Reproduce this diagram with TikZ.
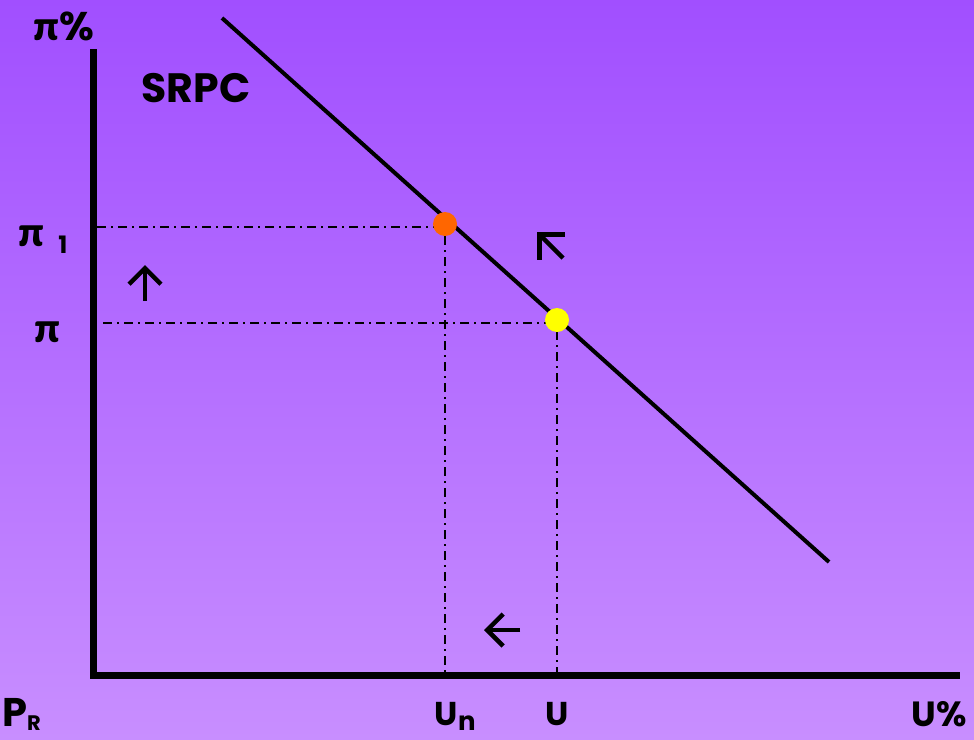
\documentclass[tikz,border=0pt]{standalone}
\usepackage{fontspec}
\usetikzlibrary{arrows.meta}
\setmainfont{Poppins}[BoldFont={Poppins Bold}]
\newfontfamily\greekfont{Lato}[BoldFont={Lato Black}]
\definecolor{bgtop}{RGB}{161,79,255}
\definecolor{bgbot}{RGB}{200,142,255}
\definecolor{dotorange}{RGB}{255,102,0}
\definecolor{dotyellow}{RGB}{255,255,0}
\begin{document}
\begin{tikzpicture}[x=1pt,y=-1pt,
  lbl/.style={font=\bfseries\fontsize{33}{36}\selectfont, inner sep=0pt, text=black},
  greek/.style={font=\greekfont\bfseries\fontsize{40}{42}\selectfont, inner sep=0pt},
  axis/.style={line width=7pt, line cap=rect},
  guide/.style={line width=2pt, dash pattern=on 9pt off 5pt on 2pt off 5pt},
  curve/.style={line width=4pt},
  marker/.style={circle, minimum size=24pt, inner sep=0pt},
  moveto/.style={line width=4.5pt, line join=miter,
    -{Straight Barb[length=#1, width=2*#1, line width=4.5pt]}},
  moveto/.default=18pt]
\shade[top color=bgtop, bottom color=bgbot] (0,0) rectangle (974,739);
\useasboundingbox (0,0) rectangle (974,739);
% axes
\coordinate (o) at (93,675);
\coordinate (ytop) at (93,52);
\coordinate (xend) at (956,675);
\draw[axis] (ytop) -- (o) -- (xend);
% SRPC
\coordinate (s1) at (222,18);
\coordinate (s2) at (829,562);
\draw[curve] (s1) -- (s2);
% points
\coordinate (p1) at (445,224);
\coordinate (p2) at (557,320);
\coordinate (h1) at (97,227);
\coordinate (h2) at (103,323);
\coordinate (v1) at (445,673);
\coordinate (v2) at (557,673);
\draw[guide] (h1) -- (445,227) -- (v1);
\draw[guide] (h2) -- (557,323) -- (v2);
\node[marker, fill=dotorange] (A) at (p1) {};
\node[marker, fill=dotyellow] (B) at (p2) {};
% labels
\node[lbl, font=\bfseries\fontsize{40}{42}\selectfont] (pipct) at (64,26) {{\greekfont π}\%};
\node[lbl, font=\bfseries\fontsize{41}{44}\selectfont] (srpc) at (196,88) {SRPC};
\node[greek] (pi1) at (31,236) {π};
\node[lbl, font=\bfseries\fontsize{24}{26}\selectfont] (one) at (63,245) {1};
\node[greek] (pi) at (47,332) {π};
\node[lbl] (Un) at (446,714) {U};
\node[lbl, font=\bfseries\fontsize{26}{28}\selectfont] (n) at (467,723) {n};
\node[lbl] (U) at (557,714) {U};
\node[lbl, font=\bfseries\fontsize{35}{38}\selectfont] (Upct) at (939,714) {U\%};
\node[lbl, font=\bfseries\fontsize{40}{42}\selectfont] (P) at (15,712) {P};
\node[lbl, font=\bfseries\fontsize{21}{24}\selectfont] (R) at (34,723) {R};
% arrows
\coordinate (upa) at (145,301);
\coordinate (upb) at (145,265);
\coordinate (nwa) at (563,258);
\coordinate (nwb) at (537,232);
\coordinate (lfa) at (520,630);
\coordinate (lfb) at (484,630);
\draw[moveto=16pt] (upa) -- (upb);
\draw[moveto=18pt] (nwa) -- (nwb);
\draw[moveto=16pt] (lfa) -- (lfb);
\end{tikzpicture}
\end{document}
